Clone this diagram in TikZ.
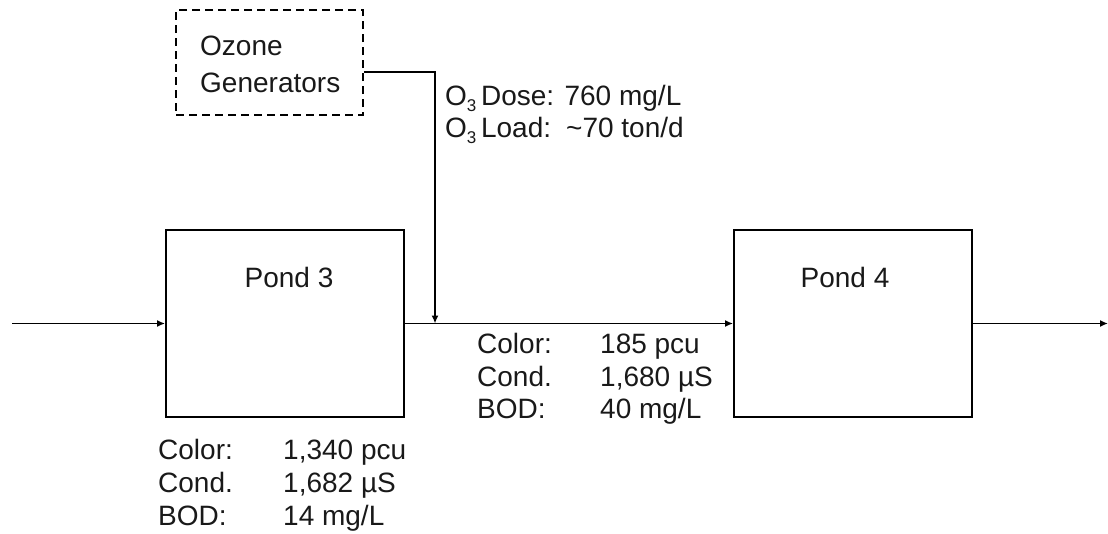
\documentclass[tikz,border=0pt]{standalone}
\usepackage{fontspec}
\setmainfont{Liberation Sans}
\usetikzlibrary{arrows.meta}
\tikzset{
  txt/.style={inner sep=0pt, anchor=base west, font=\fontsize{28}{33}\selectfont, text=black!90},
  ctxt/.style={inner sep=0pt, anchor=base, font=\fontsize{28}{33}\selectfont, text=black!90},
  pondbox/.style={draw, line width=1.8pt, minimum width=238pt, minimum height=187pt, inner sep=0pt},
  dashbox/.style={draw, line width=1.6pt, dash pattern=on 8pt off 5pt, minimum width=187pt, minimum height=105pt, inner sep=0pt},
  flow/.style={line width=1.6pt, -{Latex[length=8pt,width=7pt]}}
}
\newcommand{\othree}{O\raisebox{-0.22em}{\fontsize{17}{17}\selectfont 3}}
\begin{document}
\begin{tikzpicture}[x=1pt,y=-1pt]
\useasboundingbox (0,0) rectangle (1108,533);
% boxes
\node[dashbox] (ozone) at (269.5,62.5) {};
\node[txt] (oz1) at (200,55) {Ozone};
\node[txt] (oz2) at (200,92) {Generators};
\node[pondbox] (pond3) at (285,323.5) {};
\node[ctxt] (p3l) at (289,287) {Pond 3};
\node[pondbox] (pond4) at (853,323.5) {};
\node[ctxt] (p4l) at (845,287) {Pond 4};
% ozone data
\node[txt] (dose) at (445,105) {\othree\,Dose: 760 mg/L};
\node[txt] (load) at (445,137) {\othree\,Load: \,\symbol{126}70 ton/d};
% coordinates
\coordinate (in) at (12,323.5);
\coordinate (out) at (1108,323.5);
\coordinate (mix) at (435,323.5);
% connectors
\draw[flow] (in) -- (pond3.west);
\draw[flow] (pond3.east) -- (pond4.west);
\draw[flow] (pond4.east) -- (out);
\draw[flow] ([yshift=-9.5pt]ozone.east) -| (mix);
% pond 3 data
\node[txt] (c3a) at (158,459) {Color:};
\node[txt] (c3b) at (283,459) {1,340 pcu};
\node[txt] (d3a) at (158,492) {Cond.};
\node[txt] (d3b) at (283,492) {1,682 µS};
\node[txt] (b3a) at (158,525) {BOD:};
\node[txt] (b3b) at (283,525) {14 mg/L};
% stream data
\node[txt] (c4a) at (477,353) {Color:};
\node[txt] (c4b) at (600,353) {185 pcu};
\node[txt] (d4a) at (477,386) {Cond.};
\node[txt] (d4b) at (600,386) {1,680 µS};
\node[txt] (b4a) at (477,418) {BOD:};
\node[txt] (b4b) at (600,418) {40 mg/L};
\end{tikzpicture}
\end{document}
